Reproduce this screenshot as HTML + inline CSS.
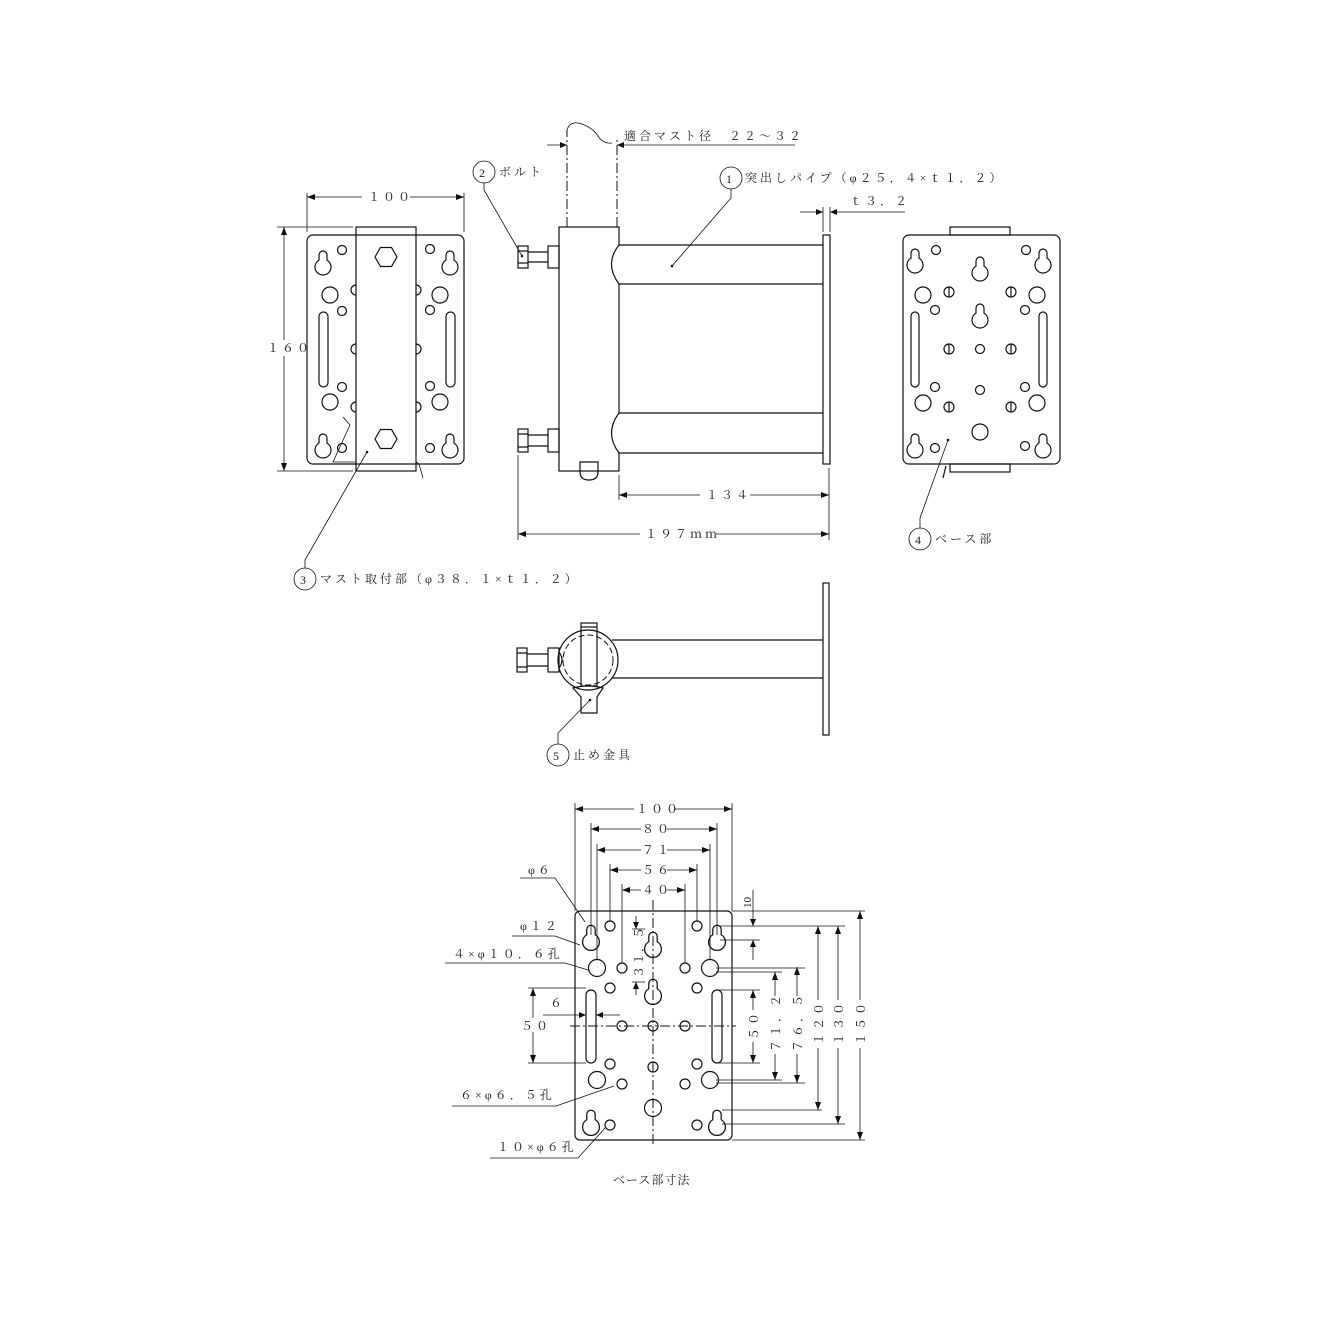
<!DOCTYPE html>
<html><head><meta charset="utf-8"><style>
html,body{margin:0;padding:0;background:#fff}
svg{display:block}
text{font-family:"Liberation Serif","Noto Serif CJK SC","Noto Sans CJK JP",serif;font-size:12px;fill:#222;letter-spacing:3px}
.s{fill:none;stroke:#111;stroke-width:1.2}
.t{fill:none;stroke:#111;stroke-width:0.8}
.dd{fill:none;stroke:#111;stroke-width:1;stroke-dasharray:10 3 2 3}
</style></head><body>
<svg width="1333" height="1333" viewBox="0 0 1333 1333" xmlns="http://www.w3.org/2000/svg">
<defs>
<path id="kh" d="M-4,-12 A4,4 0 0 1 4,-12 L4,-6.9 A8,8 0 1 1 -4,-6.9 Z" fill="none" stroke="#111" stroke-width="1.2"/>
<marker id="a" markerWidth="8" markerHeight="6" refX="8" refY="3" orient="auto-start-reverse" markerUnits="userSpaceOnUse"><path d="M0,0 L8,3 L0,6 z" fill="#111"/></marker>
</defs>

<!-- LEFT VIEW -->
<rect class="s" x="307" y="235" width="157" height="229" rx="6"/>
<rect class="s" x="356" y="227" width="60" height="244" fill="#fff"/>
<polygon class="s" points="375,257 380.5,247.5 391.5,247.5 397,257 391.5,266.5 380.5,266.5"/>
<polygon class="s" points="375,439 380.5,429.5 391.5,429.5 397,439 391.5,448.5 380.5,448.5"/>
<use href="#kh" x="323" y="267"/><use href="#kh" x="450" y="267"/>
<use href="#kh" x="323" y="450"/><use href="#kh" x="450" y="450"/>
<g class="s">
<circle cx="342" cy="250" r="4.5"/><circle cx="342" cy="311" r="4.5"/><circle cx="342" cy="387" r="4.5"/><circle cx="342" cy="448" r="4.5"/>
<circle cx="430" cy="249" r="4.5"/><circle cx="430" cy="310" r="4.5"/><circle cx="430" cy="386" r="4.5"/><circle cx="430" cy="448" r="4.5"/>
<circle cx="330" cy="295" r="8"/><circle cx="440" cy="295" r="8"/><circle cx="330" cy="402" r="8"/><circle cx="440" cy="402" r="8"/>
<rect x="319" y="312" width="9" height="75" rx="4.5"/><rect x="446" y="312" width="9" height="75" rx="4.5"/>
<path d="M356,285 A5,5 0 0 0 356,295 M356,344 A5,5 0 0 0 356,354 M356,402 A5,5 0 0 0 356,412"/>
<path d="M416,285 A5,5 0 0 1 416,295 M416,344 A5,5 0 0 1 416,354 M416,402 A5,5 0 0 1 416,412"/>
</g>
<path class="t" d="M343,417 L350,425 L333,462 L356,462 M416,462 L419,464 L423,478"/>
<!-- dims left -->
<path class="t" d="M307,232 V193 M464,232 V193"/>
<line class="t" x1="307" y1="197" x2="464" y2="197" marker-start="url(#a)" marker-end="url(#a)"/>
<rect x="362" y="189" width="48" height="14" fill="#fff"/>
<text x="368" y="201">１００</text>
<path class="t" d="M277,227 H353 M277,471 H353"/>
<line class="t" x1="284" y1="227" x2="284" y2="471" marker-start="url(#a)" marker-end="url(#a)"/>
<rect x="266" y="340" width="36" height="16" fill="#fff"/>
<text x="267" y="352">１６０</text>
<!-- label 3 -->
<circle class="t" cx="305" cy="579" r="11"/><text x="300" y="584" style="letter-spacing:0">3</text>
<path class="t" d="M305,568 V560 L367,452"/><circle cx="367" cy="452" r="1.3" fill="#111"/>
<text x="320" y="583">マスト取付部（φ３８．１×ｔ１．２）</text>

<!-- SIDE VIEW -->
<path class="dd" d="M567,227 V130 M617,227 V140"/>
<path class="t" d="M567,130 Q570,120 582,124 Q593,128 598,136 Q603,144 612,143"/>
<path class="t" d="M547,145 H567 M617,145 H795"/>
<path d="M567,145 l-7,-3 v6z M617,145 l7,-3 v6z" fill="#111"/>
<text x="624" y="140">適合マスト径　２２～３２</text>
<rect class="s" x="559" y="227" width="60" height="244" fill="#fff"/>
<path class="s" d="M619,245 H823 M619,284 H823 M619,413 H823 M619,453 H823"/>
<path d="M614,246 H620 V283 H614 Z M614,414 H620 V452 H614 Z" fill="#fff"/>
<path class="s" d="M619,245 Q604,264 619,284 M619,413 Q604,433 619,453"/>
<rect class="s" x="823" y="235" width="7" height="229"/>
<path class="s" d="M580,462 V472 Q580,480 589,480 Q598,480 598,472 V462 Z" fill="#fff"/>
<g class="s">
<rect x="518" y="246" width="10" height="22"/><rect x="548" y="246" width="11" height="22"/><path d="M528,252 H548 M528,262 H548 M518,251 H528 M518,263 H528"/>
<rect x="518" y="429" width="10" height="23"/><rect x="548" y="429" width="11" height="23"/><path d="M528,435 H548 M528,446 H548 M518,434 H528 M518,447 H528"/>
</g>
<!-- label 2 -->
<circle class="t" cx="484" cy="172" r="11"/><text x="479" y="177" style="letter-spacing:0">2</text>
<text x="499" y="176">ボルト</text>
<path class="t" d="M484,183 V190 L522,256"/><circle cx="522" cy="256" r="1.3" fill="#111"/>
<!-- label 1 -->
<circle class="t" cx="731" cy="178" r="11"/><text x="726" y="183" style="letter-spacing:0">1</text>
<text x="745" y="182">突出しパイプ（φ２５．４×ｔ１．２）</text>
<path class="t" d="M731,189 V198 L672,266"/><circle cx="672" cy="266" r="1.3" fill="#111"/>
<!-- t3.2 -->
<path class="t" d="M823,232 V207 M830,232 V207 M800,212 H823 M830,212 H905"/>
<path d="M823,212 l-7,-3 v6z M830,212 l7,-3 v6z" fill="#111"/>
<text x="850" y="205">ｔ３．２</text>
<!-- 134 / 197 -->
<path class="t" d="M619,475 V500 M829,468 V540 M518,455 V540"/>
<line class="t" x1="619" y1="495" x2="829" y2="495" marker-start="url(#a)" marker-end="url(#a)"/>
<rect x="700" y="487" width="50" height="16" fill="#fff"/><text x="706" y="499">１３４</text>
<line class="t" x1="518" y1="534" x2="829" y2="534" marker-start="url(#a)" marker-end="url(#a)"/>
<rect x="640" y="526" width="76" height="16" fill="#fff"/><text x="645" y="538">１９７ｍｍ</text>

<!-- RIGHT VIEW -->
<rect class="s" x="950" y="227" width="60" height="8"/><rect class="s" x="950" y="464" width="60" height="8"/>
<rect class="s" x="903" y="235" width="157" height="229" rx="6" fill="#fff"/>
<use href="#kh" x="915" y="265"/><use href="#kh" x="1043" y="265"/>
<use href="#kh" x="980" y="273"/><use href="#kh" x="980" y="320"/>
<use href="#kh" x="915" y="450"/><use href="#kh" x="1043" y="450"/>
<g class="s">
<circle cx="936" cy="250" r="4.5"/><circle cx="1026" cy="250" r="4.5"/><circle cx="935" cy="310" r="4.5"/><circle cx="1025" cy="310" r="4.5"/>
<circle cx="935" cy="387" r="4.5"/><circle cx="1025" cy="387" r="4.5"/><circle cx="935" cy="448" r="4.5"/><circle cx="1025" cy="446" r="4.5"/>
<circle cx="923" cy="295" r="8"/><circle cx="1037" cy="295" r="8"/><circle cx="923" cy="403" r="8"/><circle cx="1037" cy="403" r="8"/><circle cx="980" cy="432" r="8"/>
<circle cx="949" cy="292" r="5"/><circle cx="1011" cy="292" r="5"/><circle cx="949" cy="349" r="5"/><circle cx="1011" cy="349" r="5"/><circle cx="949" cy="407" r="5"/><circle cx="1011" cy="407" r="5"/>
<path d="M949,287 V297 M1011,287 V297 M949,344 V354 M1011,344 V354 M949,402 V412 M1011,402 V412"/>
<circle cx="980" cy="349" r="4.5"/><circle cx="980" cy="390" r="4.5"/>
<rect x="911" y="312" width="8" height="75" rx="4"/><rect x="1039" y="312" width="8" height="75" rx="4"/>
</g>
<path class="s" d="M946,466 L943,478"/>
<circle class="t" cx="920" cy="539" r="11"/><text x="915" y="544" style="letter-spacing:0">4</text>
<text x="935" y="543">ベース部</text>
<path class="t" d="M920,528 V518 L948,440"/><circle cx="948" cy="440" r="1.3" fill="#111"/>

<!-- TOP VIEW -->
<rect class="s" x="823" y="583" width="6" height="152"/>
<path class="s" d="M612,640 H823 M612,678 H823"/>
<circle class="s" cx="588" cy="660" r="30" fill="#fff"/>
<circle cx="588" cy="660" r="25" fill="none" stroke="#111" stroke-width="1" stroke-dasharray="6 3"/>
<rect class="s" x="581" y="623" width="16" height="63" fill="#fff"/>
<path class="s" d="M581,627 H597"/>
<path class="s" d="M573,688 Q588,684 603,688 L597,697 V713 H581 V697 Z" fill="#fff"/>
<g class="s">
<rect x="517" y="648" width="10" height="24"/><rect x="548" y="648" width="11" height="24"/><path d="M527,654 H548 M527,666 H548 M517,653 H527 M517,667 H527 M559,652 Q565,660 559,668"/>
</g>
<circle class="t" cx="558" cy="755" r="11"/><text x="553" y="760" style="letter-spacing:0">5</text>
<text x="573" y="759">止め金具</text>
<path class="t" d="M558,744 V733 L590,700"/><circle cx="590" cy="700" r="1.3" fill="#111"/>

<!-- BOTTOM: BASE DIMENSIONS -->
<rect class="s" x="575" y="911" width="157" height="229" rx="5"/>
<path class="dd" d="M653,900 V1146 M570,1026 H736"/>
<g transform="translate(591,942) scale(1.05)"><use href="#kh"/></g>
<g transform="translate(717,942) scale(1.05)"><use href="#kh"/></g>
<g transform="translate(653,949) scale(1.05)"><use href="#kh"/></g>
<g transform="translate(653,996) scale(1.05)"><use href="#kh"/></g>
<g transform="translate(591,1127) scale(1.05)"><use href="#kh"/></g>
<g transform="translate(717,1127) scale(1.05)"><use href="#kh"/></g>
<g class="s">
<circle cx="610" cy="926" r="5"/><circle cx="697" cy="926" r="5"/><circle cx="622" cy="968" r="5"/><circle cx="685" cy="968" r="5"/>
<circle cx="610" cy="988" r="5"/><circle cx="697" cy="988" r="5"/><circle cx="622" cy="1026" r="5"/><circle cx="653" cy="1026" r="5"/><circle cx="685" cy="1026" r="5"/>
<circle cx="610" cy="1064" r="5"/><circle cx="697" cy="1064" r="5"/><circle cx="653" cy="1067" r="5"/><circle cx="622" cy="1084" r="5"/><circle cx="685" cy="1084" r="5"/>
<circle cx="610" cy="1125" r="5"/><circle cx="697" cy="1125" r="5"/>
<circle cx="597" cy="968" r="8.5"/><circle cx="710" cy="968" r="8.5"/><circle cx="597" cy="1080" r="8.5"/><circle cx="710" cy="1080" r="8.5"/><circle cx="653" cy="1108" r="8.5"/>
<rect x="586" y="990" width="10" height="73" rx="5"/><rect x="712" y="990" width="10" height="73" rx="5"/>
</g>
<!-- top horizontal dims -->
<path class="t" d="M575,803 V911 M732,803 V911 M591,823 V935 M717,823 V935 M597,844 V960 M710,844 V960 M610,864 V921 M697,864 V921 M622,884 V963 M685,884 V963"/>
<line class="t" x1="575" y1="809" x2="732" y2="809" marker-start="url(#a)" marker-end="url(#a)"/>
<line class="t" x1="591" y1="829" x2="717" y2="829" marker-start="url(#a)" marker-end="url(#a)"/>
<line class="t" x1="597" y1="850" x2="710" y2="850" marker-start="url(#a)" marker-end="url(#a)"/>
<line class="t" x1="610" y1="870" x2="697" y2="870" marker-start="url(#a)" marker-end="url(#a)"/>
<line class="t" x1="622" y1="890" x2="685" y2="890" marker-start="url(#a)" marker-end="url(#a)"/>
<g fill="#fff"><rect x="634" y="802" width="40" height="14"/><rect x="641" y="822" width="26" height="14"/><rect x="641" y="843" width="26" height="14"/><rect x="641" y="863" width="26" height="14"/><rect x="641" y="883" width="26" height="14"/></g>
<text x="636" y="813">１００</text><text x="642" y="833">８０</text><text x="642" y="854">７１</text><text x="642" y="874">５６</text><text x="642" y="894">４０</text>
<!-- right vertical dims -->
<path class="t" d="M732,911 H865 M720,926 H845 M720,940 H760 M716,968 H805 M716,972 H782 M718,990 H760 M718,1063 H760 M716,1080 H782 M716,1083 H805 M722,1110 H822 M722,1124 H845 M732,1140 H865"/>
<line class="t" x1="860" y1="911" x2="860" y2="1140" marker-start="url(#a)" marker-end="url(#a)"/>
<line class="t" x1="838" y1="926" x2="838" y2="1124" marker-start="url(#a)" marker-end="url(#a)"/>
<line class="t" x1="818" y1="926" x2="818" y2="1110" marker-start="url(#a)" marker-end="url(#a)"/>
<line class="t" x1="797" y1="967" x2="797" y2="1083" marker-start="url(#a)" marker-end="url(#a)"/>
<line class="t" x1="775" y1="972" x2="775" y2="1080" marker-start="url(#a)" marker-end="url(#a)"/>
<line class="t" x1="753" y1="990" x2="753" y2="1063" marker-start="url(#a)" marker-end="url(#a)"/>
<path class="t" d="M753,890 V926 M753,940 V960"/>
<path d="M753,926 l-3,-7 h6z M753,940 l-3,7 h6z" fill="#111"/>
<g fill="#fff"><rect x="852" y="1000" width="16" height="48"/><rect x="830" y="1000" width="16" height="48"/><rect x="810" y="1000" width="16" height="48"/><rect x="789" y="996" width="16" height="58"/><rect x="767" y="996" width="16" height="58"/><rect x="745" y="1010" width="16" height="32"/></g>
<g>
<text transform="translate(865,1045) rotate(-90)">１５０</text>
<text transform="translate(843,1045) rotate(-90)">１３０</text>
<text transform="translate(823,1045) rotate(-90)">１２０</text>
<text transform="translate(802,1052) rotate(-90)">７６．５</text>
<text transform="translate(780,1052) rotate(-90)">７１．２</text>
<text transform="translate(758,1040) rotate(-90)">５０</text>
<text transform="translate(751,908) rotate(-90)" style="letter-spacing:0;font-size:11px">10</text>
<text transform="translate(643,978) rotate(-90)" style="letter-spacing:1px">３１．５</text>
</g>
<path class="t" d="M636,916 V929 M636,982 V995"/>
<path class="t" d="M632,929 H645 M632,982 H645"/>
<path d="M636,929 l-3,-7 h6z M636,982 l-3,7 h6z" fill="#111"/>
<!-- left labels -->
<text x="528" y="874">φ６</text><path class="t" d="M520,878 H555 L585,922"/>
<text x="520" y="930">φ１２</text><path class="t" d="M512,936 H555 L580,945"/>
<text x="453" y="958">４×φ１０．６孔</text><path class="t" d="M445,963 H565 L588,970"/>
<path class="t" d="M528,988 H586 M528,1063 H586"/>
<line class="t" x1="533" y1="988" x2="533" y2="1063" marker-start="url(#a)" marker-end="url(#a)"/>
<rect x="520" y="1018" width="28" height="14" fill="#fff"/><text x="521" y="1030">５０</text>
<text x="550" y="1007">６</text>
<path class="t" d="M543,1015 H580 M596,1015 H620"/>
<path d="M586,1015 l-7,-3 v6z M596,1015 l7,-3 v6z" fill="#111"/>
<text x="460" y="1099">６×φ６．５孔</text><path class="t" d="M452,1106 H556 L614,1086"/>
<text x="497" y="1151">１０×φ６孔</text><path class="t" d="M490,1158 H578 L605,1128"/>
<text x="613" y="1184" style="letter-spacing:1px">ベース部寸法</text>
</svg>
</body></html>
